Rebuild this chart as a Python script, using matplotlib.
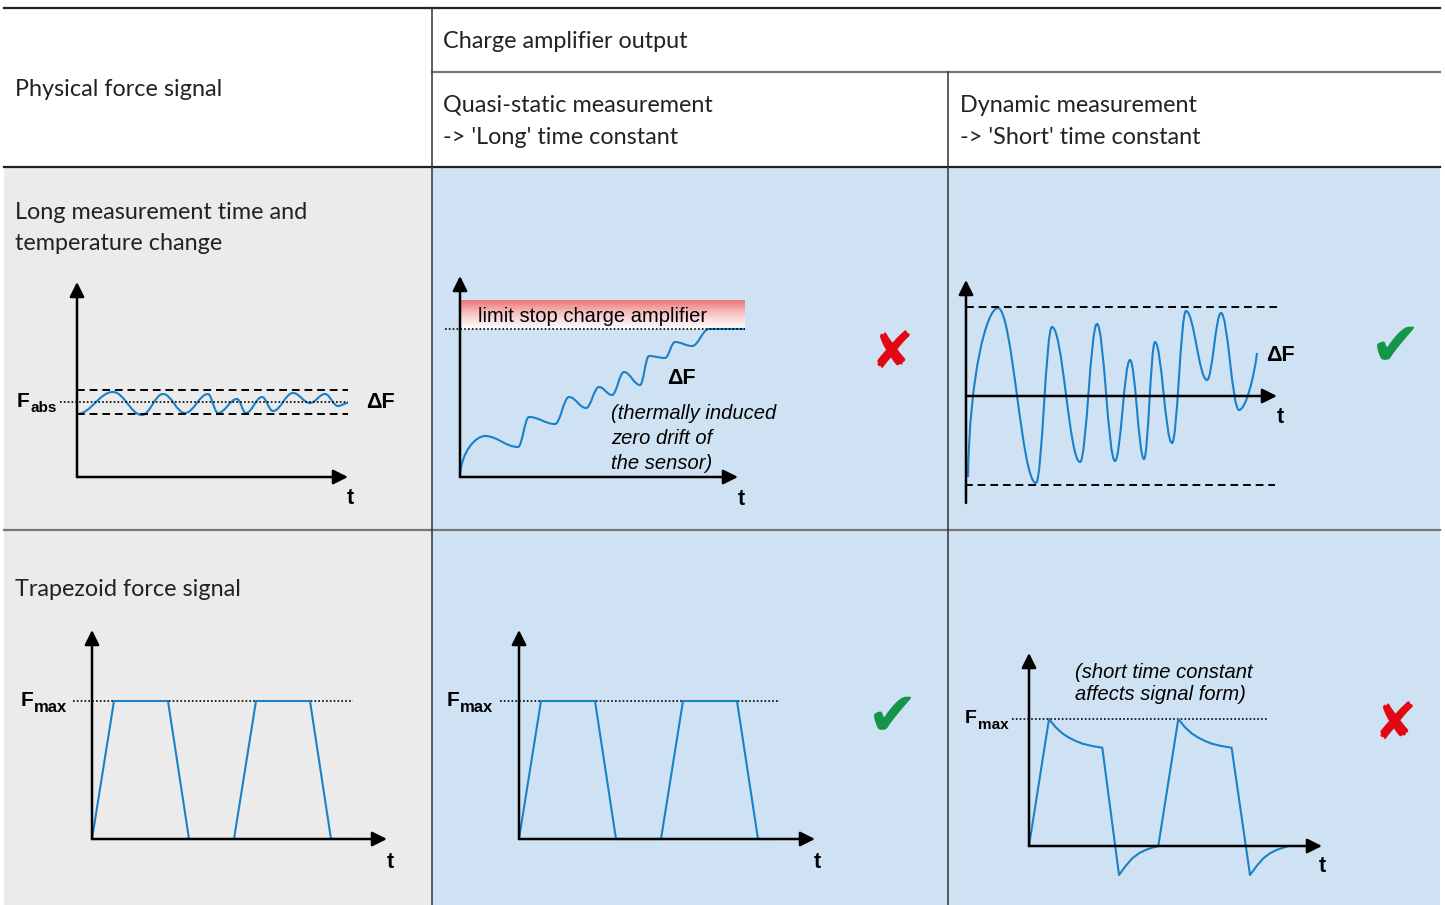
import matplotlib
matplotlib.use("Agg")
import matplotlib.pyplot as plt
import numpy as np
from matplotlib.path import Path
from matplotlib.patches import PathPatch, Rectangle
from matplotlib.colors import LinearSegmentedColormap

W, H = 1445, 905
BLUE_LINE = "#1a80c8"
GRAY_BG = "#ebebeb"
BLUE_BG = "#cfe2f3"
RED = "#e30613"
GREEN = "#14954a"
HEAD_FONT = "Lato"
PLOT_FONT = "Liberation Sans"

# ---- data (local units: t along the time axis, F above the time axis) ----
# long measurement: extrema of the fluctuating force around F_abs
drift_t = [0, 36, 65, 86, 108, 131, 141, 160, 169, 185, 196, 216, 233, 248, 261, 271]
drift_f = [-12, 10, -13, 8, -11, 8, -11, 3, -11, 5, -9, 9, -1, 8, -4, -1]
band = 12

# quasi-static output: drifting signal up to the limit stop
quasi_t = [0, 25, 58, 69, 95, 109, 126, 139, 152, 164, 180, 189, 205, 215, 232, 249, 285]
quasi_f = [1, 41, 30, 60, 53, 80, 69, 90, 82, 105, 92, 121, 119, 135, 131, 148, 148]
limit = 148

# dynamic output: oscillating signal around zero
dyn_t = [2, 32, 70, 86, 114, 131, 149, 164, 178, 189, 206, 220, 241, 255, 273, 291]
dyn_f = [-81, 88, -87, 69, -66, 72, -65, 36, -63, 54, -47, 85, 16, 83, -14, 43]
dyn_band = 89

# trapezoid force signal (normalised to F_max)
trap_t = [0, 22, 76, 97, 142, 164, 218, 239, 256]
trap_f = [0, 1, 1, 0, 0, 1, 1, 0, 0]
fmax = 138

# trapezoid through short time constant (normalised to F_max)
short_t = [0, 20, 26.7, 33.3, 40, 46.7, 53.3, 63.3, 73.3, 90, 96.7, 103.3, 110, 116.7, 123.3, 129.3,
           149.3, 156, 162.6, 169.3, 176, 182.6, 192.6, 202.6, 221, 227.7, 234.3, 241, 247.7, 254.3, 259.3]
short_f = [0, 1.0, 0.935, 0.887, 0.853, 0.827, 0.806, 0.787, 0.774, -0.228, -0.157, -0.097, -0.057,
           -0.031, -0.013, 0.0,
           1.0, 0.935, 0.887, 0.853, 0.827, 0.806, 0.787, 0.774, -0.228, -0.157, -0.097, -0.057,
           -0.031, -0.013, 0.0]
fmax_short = 127

fig = plt.figure(figsize=(W / 100, H / 100), dpi=100)
base = fig.add_axes([0, 0, 1, 1])
base.set_xlim(0, W)
base.set_ylim(H, 0)
base.axis("off")

# table backgrounds and rules
base.add_patch(Rectangle((4, 167), 428, H - 167, color=GRAY_BG, lw=0))
base.add_patch(Rectangle((432, 167), 1008, H - 167, color=BLUE_BG, lw=0))
base.plot([4, 1440], [8.5, 8.5], color="#222222", lw=1.6)
base.plot([432, 1440], [72, 72], color="#777777", lw=1.6)
base.plot([4, 1440], [167, 167], color="#222222", lw=1.6)
base.plot([4, 1440], [530, 530], color="#777777", lw=1.6)
base.plot([432, 432], [8, H], color="#333333", lw=1.1)
base.plot([948, 948], [72, H], color="#333333", lw=1.1)

hkw = dict(family=HEAD_FONT, fontsize=16.8, color="#222222", va="center")
base.text(15, 89, "Physical force signal", **hkw)
base.text(443, 41, "Charge amplifier output", **hkw)
base.text(443, 105, "Quasi-static measurement", **hkw)
base.text(443, 137, "-> 'Long' time constant", **hkw)
base.text(960, 105, "Dynamic measurement", **hkw)
base.text(960, 137, "-> 'Short' time constant", **hkw)
base.text(15, 212, "Long measurement time and", **hkw)
base.text(15, 243, "temperature change", **hkw)
base.text(15, 589, "Trapezoid force signal", **hkw)


def panel(ox, oy, x_lo, x_hi, y_lo, y_hi):
    ax = fig.add_axes([(ox + x_lo) / W, (H - oy + y_lo) / H, (x_hi - x_lo) / W, (y_hi - y_lo) / H])
    ax.set_xlim(x_lo, x_hi)
    ax.set_ylim(y_lo, y_hi)
    ax.axis("off")
    ax.patch.set_alpha(0)
    return ax


def arrows(ax, x_end, y_end, y_start=0):
    kw = dict(arrowstyle="-|>", lw=1.8, color="black", mutation_scale=22, shrinkA=0, shrinkB=0)
    ax.annotate("", xy=(x_end, 0), xytext=(0, 0), arrowprops=kw, annotation_clip=False)
    ax.annotate("", xy=(0, y_end), xytext=(0, y_start), arrowprops=kw, annotation_clip=False)


def smooth(ax, t, f, steep_start=False, steep_end=False):
    verts = [(t[0], f[0])]
    codes = [Path.MOVETO]
    for i in range(len(t) - 1):
        dx = t[i + 1] - t[i]
        df = f[i + 1] - f[i]
        c1 = (t[i] + dx * 0.38, f[i])
        c2 = (t[i + 1] - dx * 0.38, f[i + 1])
        if steep_start and i == 0:
            c1 = (t[i] + dx * 0.05, f[i] + df * 0.6)
        if steep_end and i == len(t) - 2:
            c2 = (t[i + 1] - dx * 0.15, f[i + 1] - df * 0.4)
        verts += [c1, c2, (t[i + 1], f[i + 1])]
        codes += [Path.CURVE4] * 3
    ax.add_patch(PathPatch(Path(verts, codes), fc="none", ec=BLUE_LINE, lw=1.5, clip_on=False))


def label_f(ax, x, y, sub, size=15, subsize=12):
    ax.text(x, y, "F", family=PLOT_FONT, weight="bold", fontsize=size, ha="left", va="center")
    ax.text(x + 13, y - 7, sub, family=PLOT_FONT, weight="bold", fontsize=subsize, ha="left", va="center")


def lines(ax, x, y, texts, step, **kw):
    for k, s in enumerate(texts):
        ax.text(x, y - k * step, s, **kw)


bold = dict(family=PLOT_FONT, weight="bold", fontsize=15.5, va="center", ha="left")
ital = dict(family=PLOT_FONT, style="italic", fontsize=14.5, va="center", ha="left")
dotted = dict(color="black", lw=1.2, ls=(0, (1, 1.3)))
dashed = dict(color="black", lw=1.4, ls=(0, (4, 2.5)))

# ---- long measurement, physical force ----
ax = panel(77, 477, -70, 330, -30, 230)
arrows(ax, 271, 195)
fabs = 75
ax.plot([0, 271], [fabs + band] * 2, **dashed)
ax.plot([0, 271], [fabs - band] * 2, **dashed)
ax.plot([-17, 271], [fabs, fabs], **dotted)
smooth(ax, drift_t, [fabs + v for v in drift_f])
label_f(ax, -60, fabs + 1, "abs", size=15, subsize=11)
ax.text(289, fabs, "ΔF", **bold)
ax.text(270, -21, "t", **bold)

# ---- long measurement, quasi-static output ----
ax = panel(460, 477, -20, 330, -30, 215)
grad = LinearSegmentedColormap.from_list("lim", ["#ffffff", "#f7c9c9", "#ec7676"])
ax.imshow(np.linspace(1, 0, 60).reshape(-1, 1),
          extent=[0, 285, limit, 177], cmap=grad, aspect="auto", origin="upper", zorder=0)
ax.set_xlim(-20, 330)
ax.set_ylim(-30, 215)
arrows(ax, 278, 201)
ax.plot([-15, 285], [limit, limit], **dotted)
smooth(ax, quasi_t, quasi_f, steep_start=True)
ax.text(18, limit + 13, "limit stop charge amplifier", family=PLOT_FONT, fontsize=14.5, va="center")
ax.text(207, 99, "ΔF", **bold)
lines(ax, 151, 64, ["(thermally induced", "zero drift of", "the sensor)"], 25, **ital)
ax.text(278, -22, "t", **bold)

# ---- long measurement, dynamic output ----
ax = panel(966, 396, -10, 330, -120, 130)
arrows(ax, 311, 116, y_start=-107)
ax.plot([0, 312], [dyn_band] * 2, **dashed)
ax.plot([-1, 309], [-dyn_band] * 2, **dashed)
smooth(ax, dyn_t, dyn_f, steep_start=True, steep_end=True)
ax.text(300, 41, "ΔF", **bold)
ax.text(311, -21, "t", **bold)

# ---- trapezoid, physical force ----
ax = panel(92, 839, -80, 320, -40, 215)
arrows(ax, 295, 209)
ax.plot([-19, 261], [fmax, fmax], **dotted)
ax.plot(trap_t, [v * fmax for v in trap_f], color=BLUE_LINE, lw=1.5)
label_f(ax, -71, fmax, "max")
ax.text(295, -23, "t", **bold)

# ---- trapezoid, quasi-static output ----
ax = panel(519, 839, -80, 320, -40, 215)
arrows(ax, 296, 209)
ax.plot([-19, 261], [fmax, fmax], **dotted)
ax.plot(trap_t, [v * fmax for v in trap_f], color=BLUE_LINE, lw=1.5)
label_f(ax, -72, fmax, "max")
ax.text(295, -23, "t", **bold)

# ---- trapezoid, dynamic output ----
ax = panel(1029, 846, -70, 310, -40, 200)
arrows(ax, 293, 193)
ax.plot([-17, 239], [fmax_short, fmax_short], **dotted)
ax.plot(short_t, [v * fmax_short for v in short_f], color=BLUE_LINE, lw=1.5)
label_f(ax, -64, fmax_short + 1, "max", size=14, subsize=11)
lines(ax, 46, 174, ["(short time constant", "affects signal form)"], 22, **ital)
ax.text(290, -20, "t", **bold)

# ---- verdict marks ----
mark = dict(family="DejaVu Sans", ha="center", va="center")
base.text(892, 354, "✘", color=RED, fontsize=37, **mark)
base.text(1396, 349, "✔", color=GREEN, fontsize=44, **mark)
base.text(893, 719, "✔", color=GREEN, fontsize=44, **mark)
base.text(1395, 725, "✘", color=RED, fontsize=37, **mark)

fig.savefig("out.png", dpi=100)
